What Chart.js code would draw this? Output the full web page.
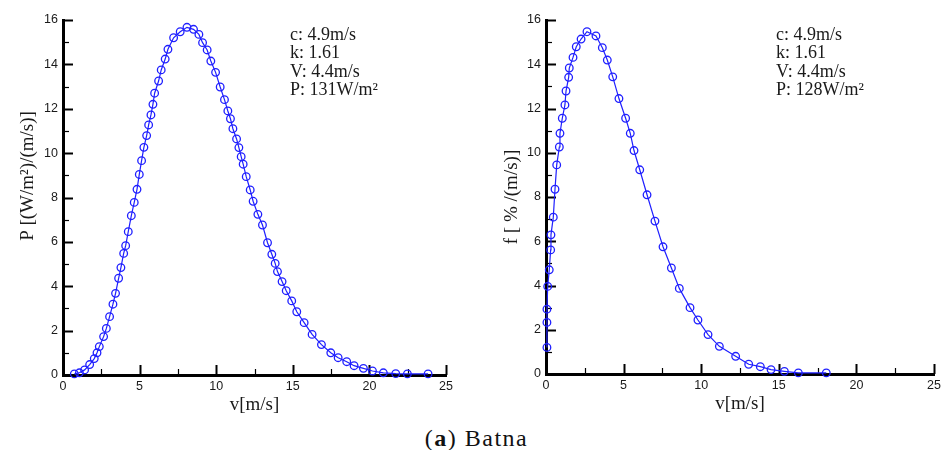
<!DOCTYPE html>
<html>
<head>
<meta charset="utf-8">
<script src="https://cdn.jsdelivr.net/npm/chart.js@4/dist/chart.umd.min.js"></script>
<style>
  body { margin: 0; background: #fff; width: 946px; height: 450px; position: relative; overflow: hidden; }
  canvas { position: absolute; top: 0; }
  #powerChart { left: 0; }
  #freqChart { left: 473px; }
  #caption {
    position: absolute; left: 0; top: 426px; width: 953px; text-align: center;
    font: 24px/24px "Liberation Serif", serif; color: #111; letter-spacing: 1.5px;
  }
</style>
</head>
<body>
<canvas id="powerChart" width="473" height="420"></canvas>
<canvas id="freqChart" width="473" height="420"></canvas>
<div id="caption">(<b>a</b>) Batna</div>
<script>
// Batna: power density and frequency distribution vs wind speed
const xMajorTicks = [0, 5, 10, 15, 20, 25];
const yMajorTicks = [0, 2, 4, 6, 8, 10, 12, 14, 16];

const powerSpeeds = [0.74, 1.07, 1.41, 1.74, 2.04, 2.22, 2.37, 2.65, 2.83, 3.04, 3.26, 3.43, 3.63, 3.78, 3.96, 4.09,
  4.26, 4.46, 4.65, 4.83, 4.98, 5.13, 5.28, 5.46, 5.59, 5.74, 5.87, 5.98, 6.24, 6.41, 6.67, 6.85, 7.22, 7.65, 8.09,
  8.52, 8.87, 9.11, 9.41, 9.65, 9.96, 10.26, 10.54, 10.76, 10.93, 11.09, 11.33, 11.48, 11.63, 11.76, 11.96, 12.22,
  12.41, 12.72, 13.02, 13.35, 13.63, 13.85, 14.0, 14.3, 14.57, 14.93, 15.26, 15.74, 16.26, 16.87, 17.48, 17.96,
  18.52, 19.0, 19.61, 20.2, 20.91, 21.72, 22.48, 23.83];
const powerDensity = [0.05, 0.1, 0.23, 0.47, 0.74, 1.0, 1.28, 1.73, 2.1, 2.63, 3.19, 3.68, 4.36, 4.84, 5.48, 5.83,
  6.46, 7.18, 7.78, 8.37, 9.04, 9.66, 10.26, 10.79, 11.27, 11.72, 12.2, 12.7, 13.25, 13.75, 14.24, 14.68, 15.2, 15.47,
  15.67, 15.58, 15.35, 14.98, 14.65, 14.15, 13.64, 12.98, 12.41, 11.9, 11.55, 11.1, 10.64, 10.25, 9.84, 9.5, 8.94,
  8.34, 7.83, 7.24, 6.76, 5.96, 5.44, 5.03, 4.66, 4.21, 3.8, 3.34, 2.85, 2.36, 1.83, 1.37, 1.0, 0.78, 0.6, 0.42,
  0.3, 0.18, 0.1, 0.06, 0.05, 0.05];

const freqSpeeds = [0.06, 0.06, 0.06, 0.11, 0.21, 0.3, 0.32, 0.47, 0.58, 0.69, 0.86, 0.9, 1.05, 1.22, 1.29, 1.46,
  1.5, 1.74, 1.95, 2.26, 2.64, 3.22, 3.63, 3.95, 4.3, 4.7, 5.13, 5.43, 5.67, 6.04, 6.51, 7.02, 7.54, 8.08, 8.59,
  9.28, 9.79, 10.44, 11.17, 12.22, 13.06, 13.81, 14.5, 15.36, 16.26, 18.06];
const freqDensity = [1.2, 2.33, 2.93, 3.96, 4.71, 5.61, 6.29, 7.09, 8.35, 9.45, 10.26, 10.88, 11.56, 12.16, 12.79,
  13.41, 13.83, 14.31, 14.79, 15.14, 15.47, 15.28, 14.75, 14.19, 13.43, 12.45, 11.56, 10.88, 10.1, 9.23, 8.1, 6.91,
  5.75, 4.79, 3.87, 3.0, 2.44, 1.78, 1.25, 0.8, 0.44, 0.33, 0.2, 0.12, 0.05, 0.05];

const powerNotes = ["c: 4.9m/s", "k: 1.61", "V: 4.4m/s", "P: 131W/m²"];
const freqNotes = ["c: 4.9m/s", "k: 1.61", "V: 4.4m/s", "P: 128W/m²"];

const LINE_COLOR = "#1f1fff";
const TEXT_COLOR = "#1a1a1a";
const SERIF = "'Liberation Serif', 'Times New Roman', serif";

// tecplot-style ticks pointing into the plot
const inwardTicks = {
  id: "inwardTicks",
  beforeDatasetsDraw(chart) {
    const { ctx, chartArea } = chart;
    const xs = chart.scales.x;
    const ys = chart.scales.y;
    ctx.save();
    ctx.strokeStyle = "#000";
    xs.ticks.forEach((t) => {
      if (t.value === 0) return;
      const major = xMajorTicks.includes(t.value);
      const px = Math.round(xs.getPixelForValue(t.value)) + 0.5;
      ctx.lineWidth = major ? 2 : 1.2;
      ctx.beginPath();
      ctx.moveTo(px, chartArea.bottom);
      ctx.lineTo(px, chartArea.bottom - (major ? 10 : 6));
      ctx.stroke();
    });
    ys.ticks.forEach((t) => {
      if (t.value === 0) return;
      const major = yMajorTicks.includes(t.value);
      const py = Math.round(ys.getPixelForValue(t.value)) + 0.5;
      ctx.lineWidth = major ? 2 : 1.2;
      ctx.beginPath();
      ctx.moveTo(chartArea.left, py);
      ctx.lineTo(chartArea.left + (major ? 10 : 6), py);
      ctx.stroke();
    });
    ctx.restore();
  },
};

// axis titles and the parameter box
const labelsPlugin = {
  id: "labels",
  afterDraw(chart, args, opts) {
    const { ctx, chartArea } = chart;
    ctx.save();
    ctx.fillStyle = TEXT_COLOR;
    ctx.font = `19px ${SERIF}`;
    ctx.textAlign = "center";
    ctx.textBaseline = "middle";
    ctx.fillText(opts.xTitle, (chartArea.left + chartArea.right) / 2, opts.xTitleY);

    ctx.translate(opts.yTitleX, opts.yTitleY);
    ctx.rotate(-Math.PI / 2);
    ctx.fillText(opts.yTitle, 0, 0);
    ctx.setTransform(1, 0, 0, 1, 0, 0);

    ctx.font = `18px ${SERIF}`;
    ctx.textAlign = "left";
    ctx.textBaseline = "alphabetic";
    opts.notes.forEach((line, i) => {
      ctx.fillText(line, opts.notesX, 40 + i * 18.35);
    });
    ctx.restore();
  },
};

function makeChart(canvasId, speeds, values, cfg) {
  const canvas = document.getElementById(canvasId);
  return new Chart(canvas, {
    type: "scatter",
    data: {
      datasets: [
        {
          data: speeds.map((v, i) => ({ x: v, y: values[i] })),
          showLine: true,
          borderColor: LINE_COLOR,
          borderWidth: 1.2,
          pointRadius: 3.8,
          pointBorderWidth: 1.3,
          pointBorderColor: LINE_COLOR,
          pointBackgroundColor: "rgba(0,0,0,0)",
          clip: false,
        },
      ],
    },
    options: {
      responsive: false,
      animation: false,
      events: [],
      layout: { padding: { left: 0, top: 20, right: cfg.padRight, bottom: 0 } },
      plugins: {
        legend: { display: false },
        tooltip: { enabled: false },
        labels: cfg.labels,
      },
      scales: {
        x: {
          type: "linear",
          min: 0,
          max: 25,
          grid: { display: true, drawOnChartArea: false, drawTicks: false },
          border: { display: true, color: "#000", width: 3 },
          ticks: {
            stepSize: 2.5,
            autoSkip: false,
            maxRotation: 0,
            padding: 4,
            color: TEXT_COLOR,
            font: { family: "'Liberation Sans', Arial, sans-serif", size: 12.5 },
            callback: (v) => (xMajorTicks.includes(v) ? String(v) : ""),
          },
          afterFit: (s) => { s.height = cfg.xHeight; },
        },
        y: {
          type: "linear",
          min: 0,
          max: 16,
          grid: { display: true, drawOnChartArea: false, drawTicks: false },
          border: { display: true, color: "#000", width: 3 },
          ticks: {
            stepSize: 1,
            autoSkip: false,
            padding: 5,
            color: TEXT_COLOR,
            font: { family: "'Liberation Sans', Arial, sans-serif", size: 12.5 },
            callback: (v) => (yMajorTicks.includes(v) ? String(v) : ""),
          },
          afterFit: (s) => { s.width = cfg.yWidth; },
        },
      },
    },
    plugins: [inwardTicks, labelsPlugin],
  });
}

makeChart("powerChart", powerSpeeds, powerDensity, {
  padRight: 27,
  xHeight: 45,
  yWidth: 63,
  labels: {
    xTitle: "v[m/s]",
    xTitleY: 405,
    yTitle: "P [(W/m²)/(m/s)]",
    yTitleX: 28,
    yTitleY: 176,
    notes: powerNotes,
    notesX: 290,
  },
});

makeChart("freqChart", freqSpeeds, freqDensity, {
  padRight: 12,
  xHeight: 46,
  yWidth: 73,
  labels: {
    xTitle: "v[m/s]",
    xTitleY: 404,
    yTitle: "f [ % /(m/s)]",
    yTitleX: 39,
    yTitleY: 197,
    notes: freqNotes,
    notesX: 303,
  },
});
</script>
</body>
</html>
